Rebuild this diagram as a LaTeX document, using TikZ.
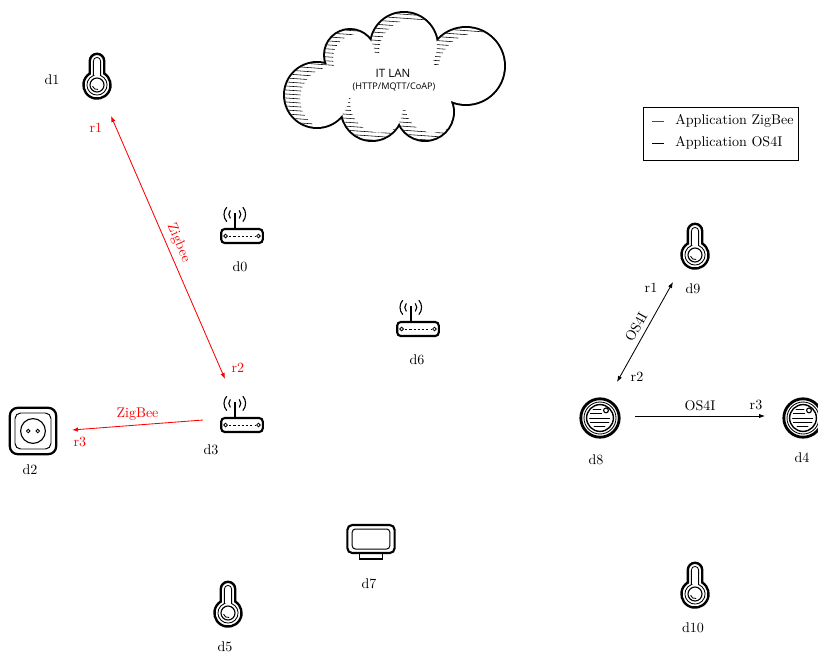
\documentclass[tikz,border=0pt]{standalone}
\usepackage{fontspec}
\newfontfamily\cloudfont{Open Sans}
\usetikzlibrary{arrows.meta}

\tikzset{
  % device icons
  thermo/.pic={
    \draw[line width=1.7pt] (-0.18,0.288) -- (-0.18,0.6) arc[start angle=180, end angle=0, radius=0.18]
      -- (0.18,0.288) arc[start angle=58, end angle=-238, radius=0.34] -- cycle;
    \draw[line width=0.6pt] (-0.09,0.236) -- (-0.09,0.6) arc[start angle=180, end angle=0, radius=0.09]
      -- (0.09,0.236) arc[start angle=69.1, end angle=-249.1, radius=0.252] -- cycle;
    \draw[line width=0.8pt] (0,0) circle (0.175);
    \draw[line width=0.6pt] (195:0.115) arc[start angle=195, end angle=285, radius=0.115];
  },
  router/.pic={
    \draw[line width=1.5pt, rounded corners=0.09cm] (-0.52,-0.175) rectangle (0.52,0.175);
    \draw[line width=0.6pt] (-0.41,0) circle (0.045) (0.41,0) circle (0.045);
    \draw[line width=0.7pt, dash pattern=on 1.5pt off 1.5pt] (-0.32,0) -- (0.32,0);
    \draw[line width=1.5pt] (-0.18,0.175) -- (-0.18,0.58);
    \draw[line width=0.8pt]
      (-0.18,0.54) ++(-42:0.15) arc[start angle=-42, end angle=42, radius=0.15]
      (-0.18,0.54) ++(138:0.15) arc[start angle=138, end angle=222, radius=0.15]
      (-0.18,0.54) ++(-42:0.27) arc[start angle=-42, end angle=42, radius=0.27]
      (-0.18,0.54) ++(138:0.27) arc[start angle=138, end angle=222, radius=0.27];
  },
  plug/.pic={
    \draw[line width=1.6pt, rounded corners=0.2cm] (-0.58,-0.58) rectangle (0.58,0.58);
    \draw[line width=0.7pt, rounded corners=0.14cm] (-0.45,-0.45) rectangle (0.45,0.45);
    \draw[line width=0.8pt] (0,0) circle (0.31);
    \draw[line width=0.6pt] (-0.12,0) circle (0.045) (0.12,0) circle (0.045);
  },
  smoke/.pic={
    \draw[line width=2pt] (0,0) circle (0.48);
    \draw[line width=0.6pt] (0,0) circle (0.40);
    \draw[line width=1pt] (0,0) circle (0.335);
    \draw[line width=0.7pt, line cap=round]
      (-0.17,0.22) -- (0.02,0.22)
      (-0.24,0.11) -- (0.04,0.11)
      (-0.26,0) -- (0.24,0)
      (-0.24,-0.11) -- (0.22,-0.11)
      (-0.15,-0.22) -- (0.12,-0.22);
    \draw[line width=0.8pt] (0.15,0.19) circle (0.06);
  },
  screen/.pic={
    \draw[line width=1.5pt, rounded corners=0.12cm] (-0.59,-0.35) rectangle (0.59,0.35);
    \draw[line width=0.7pt, rounded corners=0.08cm] (-0.47,-0.25) rectangle (0.47,0.25);
    \draw[line width=1pt] (-0.29,-0.35) rectangle (0.29,-0.5);
  },
  % cloud puffs
  puffL/.style={insert path={(7.925,13.95) circle (0.8)}},
  puffUL/.style={insert path={(8.75,14.95) circle (0.625)}},
  puffT/.style={insert path={(10.1,15.175) circle (0.825)}},
  puffR/.style={insert path={(11.65,14.675) circle (0.95)}},
  puffBR/.style={insert path={(10.625,13.525) circle (0.7)}},
  puffB/.style={insert path={(9.3,13.575) circle (0.75)}},
  puffC/.style={insert path={(9.825,14.275) ellipse (1.3 and 0.72)}},
  hatcharea/.style={insert path={(6,11.5) rectangle (14,17)}},
  % links
  zigbee/.style={red, line width=0.6pt},
  osfour/.style={black, line width=0.6pt},
  port/.style={font=\normalsize}
}

\newcommand{\cloudhatch}{%
  \foreach \hy in {12.5,12.6,...,16.6}
    \draw[line width=0.4pt] (6.8,\hy) -- (13.2,\hy-0.45);
}

\begin{document}
\begin{tikzpicture}[>={Latex[length=1.5mm,width=1.1mm]}]
  \useasboundingbox (0,0) rectangle (20.45,16.325);

  % IT LAN cloud
  \draw[line width=2.8pt, puffL, puffUL, puffT, puffR, puffBR, puffB];
  \fill[white, puffL, puffUL, puffT, puffR, puffBR, puffB, puffC];

  \begin{scope}[even odd rule]
    \clip[puffL];
    \clip[shift={(0.38,-0.1)}, hatcharea, puffL];
    \clip[hatcharea, puffUL];
    \clip[hatcharea, puffB];
    \clip[hatcharea, puffC];
    \cloudhatch
  \end{scope}
  \begin{scope}[even odd rule]
    \clip[puffUL];
    \clip[shift={(0.2,-0.1)}, hatcharea, puffUL];
    \clip[hatcharea, puffL];
    \clip[hatcharea, puffT];
    \clip[hatcharea, puffC];
    \cloudhatch
  \end{scope}
  \begin{scope}[even odd rule]
    \clip[puffT];
    \clip[shift={(0.2,-0.16)}, hatcharea, puffT];
    \clip[hatcharea, puffUL];
    \clip[hatcharea, puffR];
    \clip[hatcharea, puffC];
    \cloudhatch
  \end{scope}
  \begin{scope}[even odd rule]
    \clip[puffR];
    \clip[shift={(0.25,-0.14)}, hatcharea, puffR];
    \clip[hatcharea, puffT];
    \clip[hatcharea, puffBR];
    \clip[hatcharea, puffC];
    \cloudhatch
  \end{scope}
  \begin{scope}[even odd rule]
    \clip[puffB];
    \clip[shift={(0.2,0.18)}, hatcharea, puffB];
    \clip[hatcharea, puffL];
    \clip[hatcharea, puffBR];
    \clip[hatcharea, puffC];
    \cloudhatch
  \end{scope}
  \begin{scope}[even odd rule]
    \clip[puffBR];
    \clip[shift={(0.2,0.18)}, hatcharea, puffBR];
    \clip[hatcharea, puffB];
    \clip[hatcharea, puffR];
    \clip[hatcharea, puffC];
    \cloudhatch
  \end{scope}

  \node[font=\cloudfont\fontsize{8.2}{10}\selectfont] (lan) at (9.825,14.5) {IT LAN};
  \node[font=\cloudfont\fontsize{6.5}{8}\selectfont] (proto) at (9.85,14.15) {(HTTP/MQTT/CoAP)};

  % Thermometers
  \pic at (2.425,14.2) {thermo};
  \node (d1) at (1.3,14.325) {d1};
  \pic at (17.375,9.95) {thermo};
  \node (d9) at (17.325,9.1) {d9};
  \pic at (17.375,1.475) {thermo};
  \node (d10) at (17.325,0.625) {d10};
  \pic at (5.7,1.0) {thermo};
  \node (d5) at (5.625,0.15) {d5};

  % Routers
  \pic at (6.05,10.425) {router};
  \node (d0) at (6.0,9.65) {d0};
  \pic at (6.05,5.7) {router};
  \node (d3) at (5.275,5.075) {d3};
  \pic at (10.45,8.1) {router};
  \node (d6) at (10.425,7.325) {d6};

  % Plug
  \pic at (0.825,5.55) {plug};
  \node (d2) at (0.75,4.575) {d2};

  % Smoke detectors
  \pic at (15.0,5.875) {smoke};
  \node (d8) at (14.9,4.825) {d8};
  \pic at (20.075,5.875) {smoke};
  \node (d4) at (20.05,4.875) {d4};

  % Screen
  \pic at (9.275,2.85) {screen};
  \node (d7) at (9.225,1.725) {d7};

  % ZigBee application
  \coordinate (zbA) at (2.775,13.425);
  \coordinate (zbB) at (5.625,6.85);
  \draw[zigbee, <->] (zbA) -- (zbB) node[midway, above, sloped] {Zigbee};
  \node[port, red] (zbr1) at (2.4,13.125) {r1};
  \node[port, red] (zbr2) at (5.95,7.125) {r2};

  \coordinate (zgA) at (5.075,5.825);
  \coordinate (zgB) at (1.8,5.575);
  \draw[zigbee, ->] (zgA) -- (zgB) node[midway, above] {ZigBee};
  \node[port, red] (zgr3) at (2.0,5.275) {r3};

  % OS4I application
  \coordinate (osA) at (15.875,5.925);
  \coordinate (osB) at (19.125,5.925);
  \draw[osfour, ->] (osA) -- (osB) node[midway, above] {OS4I};
  \node[port] (osr3) at (18.9,6.2) {r3};

  \coordinate (odA) at (15.425,6.775);
  \coordinate (odB) at (16.825,9.275);
  \draw[osfour, <->] (odA) -- (odB) node[midway, above, sloped] {OS4I};
  \node[port] (odr1) at (16.275,9.125) {r1};
  \node[port] (odr2) at (15.925,6.9) {r2};

  % Legend
  \draw[line width=0.6pt] (16.075,12.325) rectangle (19.95,13.65);
  \draw[zigbee] (16.3,13.3) -- (16.6,13.3);
  \node[anchor=west] (legzb) at (16.76,13.3) {Application ZigBee};
  \draw[osfour] (16.3,12.75) -- (16.6,12.75);
  \node[anchor=west] (legos) at (16.76,12.75) {Application OS4I};

\end{tikzpicture}
\end{document}
